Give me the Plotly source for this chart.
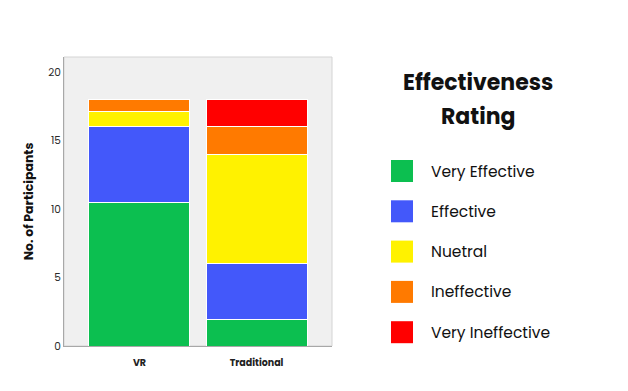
import plotly.graph_objects as go

categories = ["VR", "Traditional"]
ratings = ["Very Effective", "Effective", "Nuetral", "Ineffective", "Very Ineffective"]
very_effective = [10.5, 1.9]
effective = [5.5, 4.1]
neutral = [1.1, 8]
ineffective = [0.9, 2]
very_ineffective = [0, 2]
series = [very_effective, effective, neutral, ineffective, very_ineffective]
colors = ["#0CBF50", "#4358FA", "#FFF200", "#FF7A00", "#FF0000"]
y_ticks = [0, 5, 10, 15, 20]

FONT = "Poppins, Inter, 'Open Sans', sans-serif"

# target plot area in page pixels (page has an 8px body offset)
OFF = 8
PL, PR, PT, PB = 64, 332, 57, 346
px_w, px_h = PR - PL, PB - PT

fig = go.Figure()
for name, vals, col in zip(ratings, series, colors):
    fig.add_trace(go.Bar(
        x=categories, y=vals, name=name,
        marker=dict(color=col, line=dict(color="white", width=1)),
        width=0.863, showlegend=False,
    ))

fig.update_layout(
    barmode="stack",
    width=628, height=391,
    margin=dict(l=PL - OFF, r=628 - (PR - OFF), t=PT - OFF, b=391 - (PB - OFF)),
    paper_bgcolor="white",
    plot_bgcolor="#F0F0F0",
    font=dict(family=FONT, color="#333333"),
    xaxis=dict(range=[-0.645, 1.645], showline=True, linecolor="#A8A8A8", linewidth=1,
               tickfont=dict(size=9.5, color="#222222", family=FONT), ticks="",
               ticklabelstandoff=8,
               showgrid=False, zeroline=False),
    yaxis=dict(range=[0, 21.1], tickvals=y_ticks, showline=True, linecolor="#A8A8A8",
               linewidth=1, showgrid=False, zeroline=False, ticks="",
               tickfont=dict(size=10.5, color="#2A2A2A"),
               title=dict(text="<b>No. of Participants</b>", font=dict(size=12.5, color="#111111"),
                          standoff=11)),
)
fig.update_xaxes(tickvals=categories, ticktext=[f"<b>{c}</b>" for c in categories])

fig.add_shape(type="rect", xref="paper", yref="paper", x0=0, y0=0, x1=1, y1=1,
              line=dict(color="#D4D4D4", width=1), layer="below")

def px_to_paper(x, y):
    return (x - PL) / px_w, (PB - y) / px_h

ann = []
for line, yc in [("Effectiveness", 82), ("Rating", 117)]:
    xx, yy = px_to_paper(478, yc)
    ann.append(dict(text=f"<b>{line}</b>", xref="paper", yref="paper", x=xx, y=yy,
                    xanchor="center", yanchor="middle", showarrow=False,
                    font=dict(size=22, color="#111111", family=FONT)))
for i, (name, col) in enumerate(zip(ratings, colors)):
    yc = 171 + i * 40.3
    x0, y0 = px_to_paper(391, yc + 11)
    x1, y1 = px_to_paper(413, yc - 11)
    fig.add_shape(type="rect", xref="paper", yref="paper", x0=x0, x1=x1, y0=y0, y1=y1,
                  fillcolor=col, line=dict(color=col, width=0))
    tx, ty = px_to_paper(429, yc)
    ann.append(dict(text=name, xref="paper", yref="paper", x=tx, y=ty,
                    xanchor="left", yanchor="middle", showarrow=False,
                    font=dict(size=15.5, color="#111111", family=FONT)))
fig.update_layout(annotations=ann)

fig.write_html("out.html")
